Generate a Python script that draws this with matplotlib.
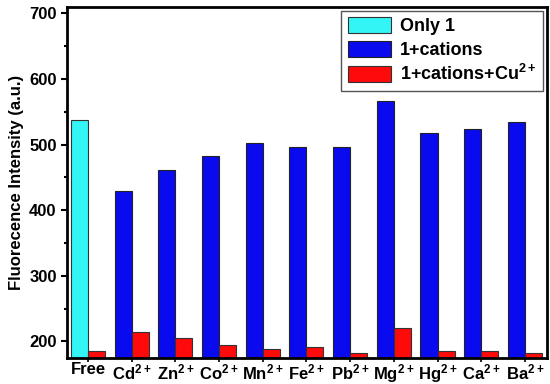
import numpy as np
import matplotlib
matplotlib.use("Agg")
import matplotlib.pyplot as plt
from matplotlib.ticker import MultipleLocator

plt.rcParams['font.family'] = ['Liberation Sans', 'DejaVu Sans']
plt.rcParams['font.weight'] = 'bold'
plt.rcParams['mathtext.fontset'] = 'custom'
plt.rcParams['mathtext.rm'] = 'Liberation Sans:bold'
plt.rcParams['mathtext.bf'] = 'Liberation Sans:bold'
plt.rcParams['mathtext.default'] = 'rm'

categories = ['Free', 'Cd$^{2+}$', 'Zn$^{2+}$', 'Co$^{2+}$', 'Mn$^{2+}$', 'Fe$^{2+}$',
              'Pb$^{2+}$', 'Mg$^{2+}$', 'Hg$^{2+}$', 'Ca$^{2+}$', 'Ba$^{2+}$']
only1 = [538]
with_cations = [430, 462, 483, 503, 497, 497, 566, 518, 524, 534]
with_cu = [185, 215, 206, 194, 189, 191, 182, 220, 186, 186, 182]

x = np.arange(len(categories))
w = 0.39

fig = plt.figure(figsize=(5.5, 3.84), dpi=100)
ax = fig.add_axes([0.122, 0.068, 0.872, 0.914])

ax.bar(x[:1] - w / 2, only1, w, color='#33f5f5', edgecolor='#333333',
       linewidth=0.8, label='Only 1')
ax.bar(x[1:] - w / 2, with_cations, w, color='#0a0aee', edgecolor='#222222',
       linewidth=0.8, label='1+cations')
ax.bar(x + w / 2, with_cu, w, color='#ff0a0a', edgecolor='#333333',
       linewidth=0.8, label='1+cations+Cu$^{2+}$')

ax.set_xlim(-0.48, 10.5)
ax.set_ylim(175, 710)
ax.set_xticks(x)
ax.set_xticklabels(categories, fontsize=12)
ax.yaxis.set_major_locator(MultipleLocator(100))
ax.yaxis.set_minor_locator(MultipleLocator(50))
ax.tick_params(axis='y', which='major', labelsize=12, width=1.5, length=4)
ax.tick_params(axis='y', which='minor', width=1.5, length=2.5)
ax.tick_params(axis='x', width=1.2, length=3, pad=0)
ax.set_ylabel('Fluorecence Intensity (a.u.)', fontsize=12, fontweight='bold',
              labelpad=4)

for s in ax.spines.values():
    s.set_linewidth(2)

leg = ax.legend(loc='upper right', fontsize=13, fancybox=False, framealpha=1,
                edgecolor='#555555', borderaxespad=0.2, handlelength=2.4,
                handleheight=1.0, labelspacing=0.3, handletextpad=0.5,
                borderpad=0.35)
leg.get_frame().set_linewidth(1.0)

fig.savefig('out.png', dpi=100)
